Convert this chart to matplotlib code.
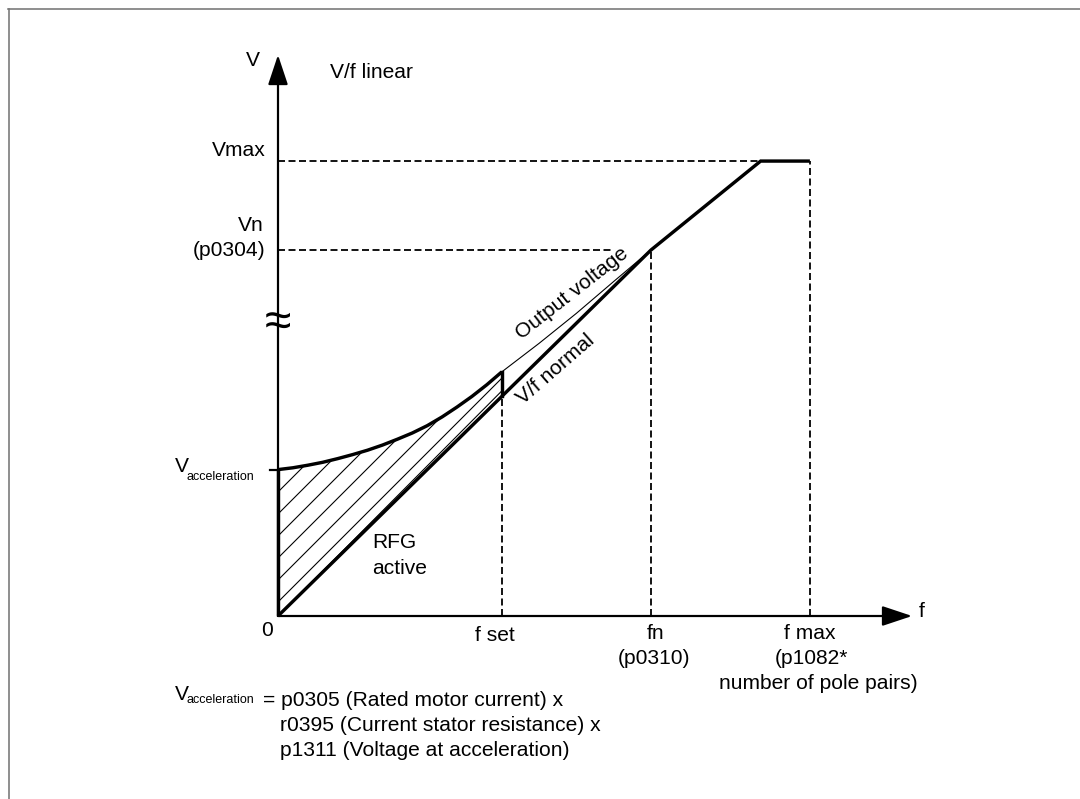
import numpy as np
import matplotlib
matplotlib.use("Agg")
import matplotlib.pyplot as plt
from matplotlib.patches import Polygon
from matplotlib.lines import Line2D

# ---------------- data (arbitrary units: f in Hz-like units, V in % of Vn) -------------
f_set = 30.0
f_n = 50.0
f_vmax = 64.7
f_max = 71.3
f_axis_end = 85.0

V_accel = 40.0
V_n = 100.0
V_max = 124.3
V_axis_end = 153.3
V_break = 80.0

# V/f characteristic (thick line)
vf_f = [0.0, f_n, f_vmax, f_max]
vf_V = [0.0, V_n, V_max, V_max]

# Output voltage during acceleration (thick curve)
out_f = [0, 2, 4, 6, 8, 10, 12, 14, 16, 18, 20, 22, 24, 26, 28, 30]
out_V = [40.0, 40.5, 41.2, 42.0, 43.0, 44.1, 45.3, 46.7, 48.3, 50.0, 52.0, 54.4,
         57.1, 60.0, 63.2, 66.7]

# Output voltage after f set (thin line merging into V/f)
out2_f = [30, 35, 40, 45, 50]
out2_V = [66.7, 74.5, 82.7, 91.4, 100.0]

# RFG ramp (thin line inside hatched area)
ramp_f = [0.0, 30.0]
ramp_V = [0.0, 61.5]
V_normal_fset = 60.0

# ---------------- figure -------------------------------------------------------------
DPI = 132
W, H = 1080, 799
plt.rcParams['font.family'] = ['Liberation Sans', 'DejaVu Sans']
plt.rcParams['hatch.linewidth'] = 0.6
plt.rcParams['lines.scale_dashes'] = False


def pt(px):
    return px * 72.0 / DPI


fig = plt.figure(figsize=(W / DPI, H / DPI), dpi=DPI)
fig.patch.set_facecolor('white')
ax = fig.add_axes([0, 0, 1, 1])
ax.set_xlim(-37.265, 107.507)
ax.set_ylim(-50.0, 168.31)
ax.axis('off')

FS = pt(21)
FS_SUB = pt(12.5)
LW_AX = pt(2.2)
LW_THICK = pt(3.4)
LW_THIN = pt(1.1)
DASH = (0, (pt(7), pt(3.5)))
LW_DASH = pt(1.8)

# border (top and left)
fig.add_artist(Line2D([8 / W, 1.0], [1 - 8.5 / H, 1 - 8.5 / H], transform=fig.transFigure,
                      color='#767676', lw=pt(1.6)))
fig.add_artist(Line2D([8.5 / W, 8.5 / W], [0, 1 - 8.5 / H], transform=fig.transFigure,
                      color='#767676', lw=pt(1.6)))

# axes with arrows
arrow_kw = dict(arrowstyle='-|>,head_length=1.35,head_width=0.45', color='black',
                lw=LW_AX, shrinkA=0, shrinkB=0, mutation_scale=pt(19))
ax.annotate('', xy=(0, V_axis_end), xytext=(0, 0), arrowprops=arrow_kw)
ax.annotate('', xy=(f_axis_end, 0), xytext=(0, 0), arrowprops=arrow_kw)

# dashed helper lines
ax.plot([0, f_vmax], [V_max, V_max], color='black', lw=LW_DASH, linestyle=DASH)
ax.plot([f_max, f_max], [0, V_max], color='black', lw=LW_DASH, linestyle=DASH)
ax.plot([0, 44.8], [V_n, V_n], color='black', lw=LW_DASH, linestyle=DASH)
ax.plot([f_n, f_n], [0, V_n], color='black', lw=LW_DASH, linestyle=DASH)
ax.plot([f_set, f_set], [0, V_normal_fset], color='black', lw=LW_DASH, linestyle=DASH)

# hatched area
poly_xy = np.column_stack([out_f + ramp_f[::-1], out_V + ramp_V[::-1]])
ax.add_patch(Polygon(poly_xy, closed=True, facecolor='none', edgecolor='black',
                     lw=0, hatch='//'))

# curves
ax.plot(vf_f, vf_V, color='black', lw=LW_THICK, solid_capstyle='butt', solid_joinstyle='miter')
ax.plot(out_f, out_V, color='black', lw=LW_THICK, solid_capstyle='butt')
ax.plot(out2_f, out2_V, color='black', lw=LW_THIN)
ax.plot(ramp_f, ramp_V, color='black', lw=LW_THIN)
ax.plot([f_set, f_set], [V_normal_fset, out_V[-1]], color='black', lw=LW_THICK,
        solid_capstyle='projecting')
ax.plot([0, 0], [0, V_accel], color='black', lw=LW_THICK, solid_capstyle='butt')
# tick at V_acceleration
ax.plot([-8 / 7.46, 0], [V_accel, V_accel], color='black', lw=LW_AX)

# axis break symbol
ax.text(0, V_break, '\u2248', ha='center', va='center', fontsize=pt(48),
        family=['Liberation Sans', 'DejaVu Sans'])


def label(text, xy, off, ha='center', va='center', size=FS, **kw):
    ax.annotate(text, xy=xy, xytext=off, textcoords='offset pixels', ha=ha, va=va,
                fontsize=size, color='black', **kw)


# axis labels and texts
label('V', (0, V_axis_end), (-25, -6))
label('f', (f_axis_end, 0), (10, 5))
label('V/f linear', (0, 0), (94, 544))
label('0', (0, 0), (-11, -14))
label('Vmax', (0, V_max), (-12, 11), ha='right')
label('Vn', (0, V_n), (-14, 25), ha='right')
label('(p0304)', (0, V_n), (-13, 0), ha='right')
label('V', (0, V_accel), (-103, 3), ha='left')
label('acceleration', (0, V_accel), (-91, -7), ha='left', size=FS_SUB)

label('f set', (f_set, 0), (-7, -19))
label('fn', (f_n, 0), (5, -17))
label('(p0310)', (f_n, 0), (3, -42))
label('f max', (f_max, 0), (0, -17))
label('(p1082*', (f_max, 0), (2, -42))
label('number of pole pairs)', (f_max, 0), (8, -67))

label('RFG', (0, 0), (94, 74), ha='left')
label('active', (0, 0), (94, 48), ha='left')

label('Output voltage', (40, 82.7), (-4, 20), rotation=38, rotation_mode='anchor')
label('V/f normal', (37, 74), (2, -24), rotation=41, rotation_mode='anchor')

# formula
label('V', (0, 0), (-103, -78), ha='left')
label('acceleration', (0, 0), (-91, -84), ha='left', size=FS_SUB)
label('= p0305 (Rated motor current) x', (0, 0), (-15, -84), ha='left')
label('r0395 (Current stator resistance) x', (0, 0), (2, -109), ha='left')
label('p1311 (Voltage at acceleration)', (0, 0), (2, -134), ha='left')

fig.savefig('out.png', dpi=DPI, facecolor='white')
